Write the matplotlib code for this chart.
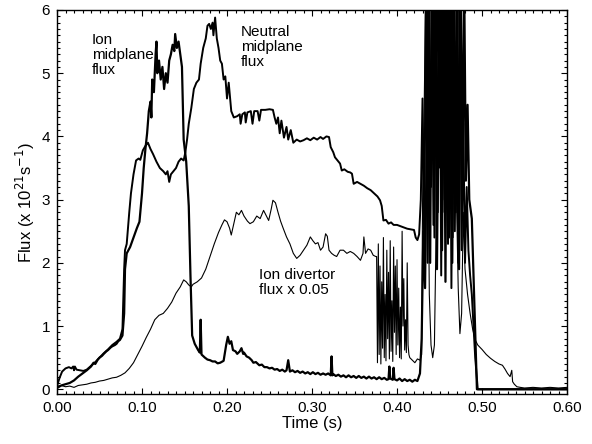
import matplotlib
matplotlib.use("Agg")
import matplotlib.pyplot as plt
from matplotlib.ticker import MultipleLocator, FormatStrFormatter

plt.rcParams['font.family'] = ['Liberation Sans', 'DejaVu Sans']

# ---- Ion midplane flux (thick): (time s, flux) ----
ion_points = [
    (0.000, 0.02), (0.005, 0.06), (0.010, 0.08), (0.015, 0.10), (0.020, 0.14), (0.025, 0.20),
    (0.030, 0.25), (0.035, 0.30), (0.040, 0.36), (0.043, 0.42), (0.045, 0.40), (0.048, 0.47),
    (0.050, 0.50), (0.053, 0.53), (0.055, 0.56), (0.058, 0.60), (0.060, 0.62), (0.063, 0.66),
    (0.065, 0.68), (0.068, 0.70), (0.070, 0.72), (0.072, 0.76), (0.074, 0.78), (0.077, 0.85),
    (0.079, 1.20), (0.080, 1.90), (0.082, 2.15), (0.086, 2.25), (0.090, 2.40), (0.094, 2.55),
    (0.097, 2.65), (0.100, 3.10), (0.102, 3.50), (0.104, 3.80), (0.106, 4.05), (0.108, 4.40),
    (0.110, 4.55), (0.111, 4.30), (0.112, 4.90), (0.114, 4.70), (0.116, 5.30), (0.117, 5.50),
    (0.118, 5.00), (0.120, 5.20), (0.122, 4.90), (0.124, 5.10), (0.126, 4.75), (0.128, 5.00),
    (0.130, 4.85), (0.132, 5.20), (0.134, 5.30), (0.136, 5.45), (0.138, 5.35), (0.139, 5.62),
    (0.141, 5.40), (0.143, 5.50), (0.145, 5.30), (0.147, 5.10), (0.149, 3.95), (0.152, 3.60),
    (0.155, 2.90), (0.157, 1.80), (0.159, 0.85), (0.162, 0.72), (0.166, 0.62), (0.168, 0.58),
    (0.169, 1.10), (0.170, 0.55), (0.174, 0.50), (0.177, 0.47), (0.180, 0.46), (0.183, 0.44),
    (0.186, 0.44), (0.189, 0.41), (0.192, 0.42), (0.196, 0.45), (0.199, 0.70), (0.201, 0.83),
    (0.203, 0.72), (0.205, 0.76), (0.207, 0.62), (0.210, 0.60), (0.212, 0.56), (0.215, 0.60),
    (0.217, 0.65), (0.219, 0.56), (0.220, 0.58), (0.223, 0.52), (0.226, 0.50), (0.229, 0.46),
    (0.231, 0.42), (0.234, 0.43), (0.238, 0.38), (0.241, 0.39), (0.244, 0.35), (0.247, 0.35),
    (0.250, 0.33), (0.253, 0.34), (0.256, 0.31), (0.259, 0.32), (0.262, 0.29), (0.265, 0.31),
    (0.268, 0.28), (0.270, 0.30), (0.272, 0.46), (0.274, 0.28), (0.277, 0.30), (0.280, 0.27),
    (0.283, 0.29), (0.286, 0.26), (0.289, 0.28), (0.292, 0.25), (0.295, 0.27), (0.298, 0.24),
    (0.301, 0.27), (0.304, 0.24), (0.307, 0.26), (0.310, 0.23), (0.313, 0.25), (0.316, 0.23),
    (0.319, 0.25), (0.322, 0.22), (0.323, 0.52), (0.324, 0.22), (0.325, 0.24), (0.328, 0.21),
    (0.331, 0.23), (0.334, 0.20), (0.337, 0.22), (0.340, 0.19), (0.343, 0.22), (0.346, 0.19),
    (0.349, 0.21), (0.352, 0.18), (0.355, 0.21), (0.358, 0.18), (0.361, 0.20), (0.364, 0.17),
    (0.367, 0.20), (0.370, 0.17), (0.373, 0.19), (0.376, 0.16), (0.379, 0.19), (0.382, 0.16),
    (0.385, 0.18), (0.388, 0.15), (0.390, 0.16), (0.391, 0.36), (0.392, 0.17), (0.395, 0.15),
    (0.396, 0.34), (0.397, 0.16), (0.400, 0.14), (0.403, 0.17), (0.406, 0.13), (0.409, 0.16),
    (0.412, 0.13), (0.415, 0.15), (0.418, 0.12), (0.421, 0.15), (0.424, 0.13), (0.427, 0.25),
    (0.429, 0.80), (0.431, 2.50), (0.433, 1.60), (0.435, 4.00), (0.437, 6.50), (0.439, 2.00),
    (0.441, 6.50), (0.443, 2.60), (0.445, 6.50), (0.447, 1.90), (0.449, 5.00), (0.451, 6.50),
    (0.453, 2.20), (0.455, 6.50), (0.457, 1.70), (0.459, 6.50), (0.461, 2.40), (0.463, 6.50),
    (0.465, 2.00), (0.467, 6.50), (0.469, 2.80), (0.471, 6.50), (0.473, 1.90), (0.475, 6.50),
    (0.477, 3.00), (0.479, 6.50), (0.481, 3.30), (0.483, 4.50), (0.485, 3.00), (0.487, 2.80),
    (0.488, 2.70), (0.494, 0.00), (0.600, 0.00),
]

# ---- Neutral midplane flux (thick) ----
neu_points = [
    (0.000, 0.05), (0.003, 0.18), (0.006, 0.28), (0.010, 0.33), (0.014, 0.35), (0.017, 0.33),
    (0.019, 0.36), (0.020, 0.30), (0.021, 0.36), (0.023, 0.31), (0.027, 0.30), (0.031, 0.29),
    (0.035, 0.31), (0.040, 0.37), (0.045, 0.43), (0.050, 0.50), (0.055, 0.57), (0.060, 0.63),
    (0.065, 0.70), (0.070, 0.75), (0.074, 0.80), (0.077, 0.95), (0.079, 1.90), (0.080, 2.20),
    (0.082, 2.30), (0.085, 2.80), (0.087, 3.10), (0.090, 3.40), (0.093, 3.62), (0.096, 3.65),
    (0.098, 3.63), (0.101, 3.78), (0.104, 3.85), (0.107, 3.90), (0.110, 3.80), (0.113, 3.72),
    (0.117, 3.60), (0.121, 3.50), (0.125, 3.45), (0.128, 3.40), (0.130, 3.45), (0.132, 3.28),
    (0.134, 3.40), (0.137, 3.45), (0.140, 3.50), (0.143, 3.60), (0.146, 3.65), (0.149, 3.62),
    (0.151, 3.75), (0.153, 3.95), (0.155, 4.20), (0.158, 4.45), (0.161, 4.75), (0.164, 4.85),
    (0.167, 4.90), (0.169, 5.15), (0.172, 5.40), (0.175, 5.55), (0.177, 5.75), (0.179, 5.78),
    (0.181, 5.70), (0.183, 5.80), (0.184, 5.60), (0.186, 5.88), (0.188, 5.55), (0.190, 5.40),
    (0.192, 5.20), (0.194, 5.15), (0.196, 4.90), (0.198, 4.95), (0.200, 4.60), (0.202, 4.85),
    (0.205, 4.40), (0.208, 4.30), (0.212, 4.32), (0.215, 4.35), (0.216, 4.20), (0.218, 4.35),
    (0.221, 4.38), (0.222, 4.22), (0.224, 4.38), (0.228, 4.40), (0.230, 4.20), (0.232, 4.40),
    (0.236, 4.40), (0.238, 4.25), (0.240, 4.42), (0.245, 4.42), (0.250, 4.43), (0.254, 4.42),
    (0.256, 4.30), (0.258, 4.20), (0.260, 4.30), (0.262, 4.05), (0.264, 4.25), (0.267, 3.98),
    (0.270, 4.15), (0.272, 3.95), (0.275, 4.10), (0.278, 3.90), (0.282, 3.95), (0.286, 3.92),
    (0.290, 3.94), (0.294, 3.97), (0.298, 3.94), (0.302, 3.98), (0.306, 3.95), (0.310, 3.99),
    (0.313, 3.96), (0.317, 4.00), (0.320, 3.99), (0.322, 3.83), (0.325, 3.75), (0.327, 3.67),
    (0.330, 3.62), (0.333, 3.57), (0.335, 3.46), (0.338, 3.48), (0.342, 3.44), (0.345, 3.43),
    (0.347, 3.41), (0.349, 3.25), (0.353, 3.28), (0.357, 3.25), (0.361, 3.22), (0.365, 3.18),
    (0.369, 3.15), (0.373, 3.10), (0.377, 3.05), (0.380, 2.99), (0.382, 2.90), (0.384, 2.67),
    (0.387, 2.68), (0.390, 2.62), (0.393, 2.64), (0.396, 2.60), (0.400, 2.60), (0.404, 2.58),
    (0.408, 2.56), (0.412, 2.54), (0.416, 2.53), (0.420, 2.52), (0.422, 2.40), (0.424, 2.36),
    (0.426, 2.45), (0.428, 3.00), (0.430, 4.60), (0.432, 2.20), (0.434, 6.50), (0.436, 2.00),
    (0.438, 6.50), (0.440, 3.20), (0.442, 6.50), (0.444, 2.40), (0.446, 6.50), (0.448, 2.80),
    (0.450, 6.50), (0.452, 1.80), (0.454, 6.50), (0.456, 3.00), (0.458, 6.50), (0.460, 2.30),
    (0.462, 6.50), (0.464, 1.60), (0.466, 6.50), (0.468, 2.50), (0.470, 5.50), (0.472, 2.00),
    (0.474, 6.50), (0.476, 2.20), (0.478, 4.20), (0.480, 2.00), (0.482, 3.20), (0.484, 2.20),
    (0.486, 1.80), (0.488, 1.50), (0.490, 1.00), (0.492, 0.50), (0.495, 0.00), (0.600, 0.00),
]

# ---- Ion divertor flux x 0.05 (thin) ----
div_points = [
    (0.000, 0.05), (0.005, 0.06), (0.010, 0.04), (0.015, 0.05), (0.020, 0.03), (0.025, 0.06),
    (0.030, 0.07), (0.035, 0.08), (0.040, 0.10), (0.045, 0.11), (0.050, 0.13), (0.055, 0.14),
    (0.060, 0.16), (0.065, 0.18), (0.070, 0.19), (0.075, 0.22), (0.080, 0.26), (0.085, 0.33),
    (0.090, 0.42), (0.095, 0.55), (0.100, 0.68), (0.105, 0.82), (0.110, 0.95), (0.115, 1.10),
    (0.120, 1.17), (0.125, 1.20), (0.130, 1.28), (0.135, 1.38), (0.140, 1.52), (0.145, 1.62),
    (0.149, 1.73), (0.152, 1.70), (0.155, 1.65), (0.158, 1.62), (0.160, 1.66), (0.165, 1.70),
    (0.170, 1.76), (0.175, 1.90), (0.180, 2.10), (0.185, 2.30), (0.190, 2.48), (0.194, 2.60),
    (0.197, 2.68), (0.200, 2.65), (0.203, 2.55), (0.205, 2.44), (0.208, 2.62), (0.211, 2.80),
    (0.214, 2.76), (0.217, 2.83), (0.220, 2.74), (0.224, 2.66), (0.227, 2.62), (0.231, 2.65),
    (0.235, 2.74), (0.239, 2.70), (0.243, 2.83), (0.246, 2.75), (0.249, 2.67), (0.252, 2.85),
    (0.254, 2.99), (0.257, 2.95), (0.260, 2.80), (0.263, 2.66), (0.266, 2.55), (0.270, 2.41),
    (0.274, 2.30), (0.278, 2.15), (0.282, 2.07), (0.286, 2.12), (0.290, 2.20), (0.294, 2.28),
    (0.298, 2.41), (0.301, 2.35), (0.304, 2.30), (0.307, 2.32), (0.310, 2.20), (0.313, 2.25),
    (0.316, 2.46), (0.318, 2.42), (0.320, 2.20), (0.323, 2.15), (0.326, 2.12), (0.329, 2.10),
    (0.333, 2.20), (0.337, 2.20), (0.341, 2.15), (0.345, 2.18), (0.349, 2.15), (0.353, 2.10),
    (0.357, 2.04), (0.360, 2.15), (0.361, 2.41), (0.363, 2.15), (0.366, 2.22), (0.369, 2.20),
    (0.372, 2.12), (0.375, 2.10), (0.376, 2.10), (0.377, 0.42), (0.378, 2.30), (0.379, 0.55),
    (0.380, 1.95), (0.381, 0.40), (0.382, 1.70), (0.383, 0.65), (0.384, 2.40), (0.385, 0.50),
    (0.386, 1.50), (0.387, 0.45), (0.388, 2.20), (0.389, 0.80), (0.390, 1.85), (0.391, 0.48),
    (0.392, 2.35), (0.393, 0.60), (0.394, 1.40), (0.395, 0.44), (0.396, 2.25), (0.397, 0.90),
    (0.398, 1.95), (0.399, 0.55), (0.400, 2.05), (0.401, 0.70), (0.402, 1.60), (0.403, 0.50),
    (0.404, 1.30), (0.405, 0.48), (0.406, 2.50), (0.407, 1.00), (0.408, 1.75), (0.409, 0.62),
    (0.410, 1.10), (0.411, 0.58), (0.412, 2.00), (0.413, 0.70), (0.414, 0.55), (0.415, 0.50),
    (0.418, 0.46), (0.421, 0.42), (0.424, 0.48), (0.427, 0.46), (0.429, 0.55), (0.430, 2.90),
    (0.432, 4.50), (0.434, 6.50), (0.436, 4.50), (0.438, 1.50), (0.440, 0.70), (0.442, 0.50),
    (0.444, 0.70), (0.446, 2.50), (0.448, 6.50), (0.450, 3.50), (0.452, 6.50), (0.454, 2.80),
    (0.456, 6.50), (0.458, 3.00), (0.460, 6.50), (0.462, 3.20), (0.464, 6.50), (0.466, 2.40),
    (0.468, 6.50), (0.470, 3.00), (0.472, 1.60), (0.474, 0.88), (0.476, 1.20), (0.478, 2.80),
    (0.480, 1.90), (0.483, 1.50), (0.486, 1.20), (0.489, 0.95), (0.492, 0.78), (0.495, 0.70),
    (0.500, 0.63), (0.505, 0.55), (0.510, 0.49), (0.515, 0.44), (0.520, 0.40), (0.524, 0.38),
    (0.527, 0.32), (0.530, 0.25), (0.533, 0.20), (0.535, 0.30), (0.536, 0.12), (0.538, 0.08),
    (0.541, 0.04), (0.545, 0.03), (0.550, 0.02), (0.560, 0.03), (0.570, 0.02), (0.580, 0.03),
    (0.590, 0.02), (0.600, 0.03),
]

x_ticks = [0.0, 0.1, 0.2, 0.3, 0.4, 0.5, 0.6]
y_ticks = [0, 1, 2, 3, 4, 5, 6]

t_ion, f_ion = zip(*ion_points)
t_neu, f_neu = zip(*neu_points)
t_div, f_div = zip(*div_points)

fig = plt.figure(figsize=(5.92, 4.44), dpi=100)
ax = fig.add_axes([0.0963, 0.1126, 0.8615, 0.8649])

ax.plot(t_div, f_div, color='black', lw=0.8, solid_joinstyle='round')
ax.plot(t_ion, f_ion, color='black', lw=1.6, solid_joinstyle='round')
ax.plot(t_neu, f_neu, color='black', lw=1.4, solid_joinstyle='round')

ax.set_xlim(0.0, 0.6)
ax.set_ylim(-0.075, 6.0)
ax.set_xticks(x_ticks)
ax.set_yticks(y_ticks)
ax.xaxis.set_major_formatter(FormatStrFormatter('%.2f'))
ax.xaxis.set_minor_locator(MultipleLocator(0.01))
ax.yaxis.set_minor_locator(MultipleLocator(0.1))
ax.tick_params(which='both', direction='in', top=True, right=True, labelsize=11, width=0.8)
ax.tick_params(which='major', length=4.5, pad=5)
ax.tick_params(which='minor', length=2.5)
for s in ax.spines.values():
    s.set_linewidth(1.0)

ax.set_xlabel('Time (s)', fontsize=12, labelpad=1)
ax.set_ylabel('Flux (x 10$^{21}$s$^{-1}$)', fontsize=12, labelpad=3)

ax.text(0.041, 5.64, 'Ion\nmidplane\nflux', fontsize=11, va='top', ha='left', linespacing=1.1)
ax.text(0.216, 5.77, 'Neutral\nmidplane\nflux', fontsize=11, va='top', ha='left', linespacing=1.1)
ax.text(0.238, 1.92, 'Ion divertor\nflux x 0.05', fontsize=11, va='top', ha='left', linespacing=1.1)

fig.savefig('out.png', dpi=100)
